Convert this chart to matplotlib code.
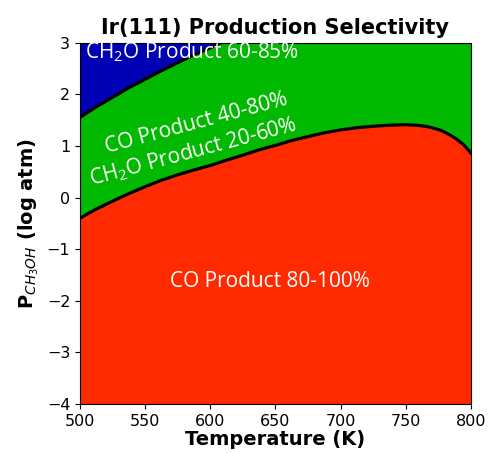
import matplotlib.pyplot as plt
import numpy as np

# boundary between CO-dominated and mixed region (lower curve)
temp_low = [500, 512, 525, 537, 550, 562, 575, 587, 600, 612, 625, 637, 650, 662, 675, 687,
            700, 712, 725, 737, 750, 758, 765, 772, 778, 784, 789, 794, 797, 800]
p_low = [-0.40, -0.23, -0.07, 0.07, 0.21, 0.33, 0.44, 0.53, 0.62, 0.72, 0.82, 0.92, 1.01, 1.10,
         1.18, 1.25, 1.31, 1.35, 1.38, 1.40, 1.41, 1.40, 1.38, 1.34, 1.29, 1.21, 1.13, 1.03, 0.95, 0.86]

# boundary between mixed region and CH2O-dominated region (upper curve)
temp_high = [500, 512, 525, 537, 550, 562, 575, 587, 600, 612, 625]
p_high = [1.55, 1.75, 1.94, 2.12, 2.29, 2.45, 2.61, 2.76, 2.90, 3.04, 3.18]

red = '#ff2a00'
green = '#00b900'
blue = '#0000b4'

fig = plt.figure(figsize=(4.88, 4.53), dpi=100)
ax = fig.add_subplot(111)
fig.subplots_adjust(left=0.164, right=0.965, top=0.906, bottom=0.108)

ax.fill_between(temp_low, -4, p_low, color=red, lw=0)
ax.fill_between(temp_low, p_low, 3, color=green, lw=0)
ax.fill_between(temp_high, p_high, 3, color=blue, lw=0)
ax.plot(temp_low, p_low, color='black', lw=2.3, solid_joinstyle='round')
ax.plot(temp_high, p_high, color='black', lw=2.3, solid_joinstyle='round')

ax.set_xlim(500, 800)
ax.set_ylim(-4, 3)
ax.set_xticks([500, 550, 600, 650, 700, 750, 800])
ax.set_yticks(np.arange(-4, 4))
ax.tick_params(labelsize=11.5)

txt = dict(color='white', family='Open Sans', fontsize=15, ha='center', va='center')
ax.text(586, 2.81, r'CH$_\mathregular{2}$O Product 60-85%', **txt)
ax.text(589, 1.44, 'CO Product 40-80%', rotation=15, **txt)
ax.text(587, 0.89, r'CH$_\mathregular{2}$O Product 20-60%', rotation=15, **txt)
ax.text(646, -1.62, 'CO Product 80-100%', **txt)

ax.set_title('Ir(111) Production Selectivity', fontsize=15, fontweight='bold')
ax.set_xlabel('Temperature (K)', fontsize=14, fontweight='bold', labelpad=1)
ax.set_ylabel(r'P$_{CH_3OH}$ (log atm)', fontsize=14, fontweight='bold')

plt.savefig('out.png', dpi=100)
